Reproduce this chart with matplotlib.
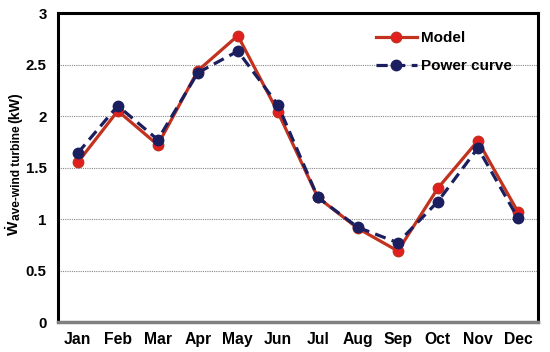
import matplotlib
matplotlib.use("Agg")
import matplotlib.pyplot as plt

months = ["Jan", "Feb", "Mar", "Apr", "May", "Jun", "Jul", "Aug", "Sep", "Oct", "Nov", "Dec"]
model = [1.55, 2.05, 1.72, 2.44, 2.78, 2.04, 1.21, 0.91, 0.69, 1.30, 1.76, 1.07]
power_curve = [1.64, 2.10, 1.77, 2.42, 2.63, 2.11, 1.21, 0.92, 0.77, 1.17, 1.69, 1.01]
yticks = [0, 0.5, 1, 1.5, 2, 2.5, 3]
ytick_labels = ["0", "0.5", "1", "1.5", "2", "2.5", "3"]

plt.rcParams['font.family'] = ['Liberation Sans', 'DejaVu Sans']
plt.rcParams['mathtext.fontset'] = 'custom'
plt.rcParams['mathtext.rm'] = 'Liberation Sans:bold'
plt.rcParams['mathtext.bf'] = 'Liberation Sans:bold'
plt.rcParams['mathtext.it'] = 'Liberation Sans:bold'

W, H = 550, 352
fig = plt.figure(figsize=(W / 100, H / 100), dpi=100)
ax = fig.add_axes([0.105, 0.085, 0.873, 0.878])

x = list(range(len(months)))
ax.plot(x, model, color="#c1321f", lw=2.3, marker="o", ms=7.5,
        markerfacecolor="#e31e1e", markeredgecolor="#c1321f", label="Model", zorder=3)
ax.plot(x, power_curve, color="#1b1f5f", lw=2.3, ls=(0, (3.5, 2)), marker="o", ms=7.5,
        markerfacecolor="#1b1f5f", markeredgecolor="#1b1f5f", label="Power curve", zorder=4)

ax.set_xlim(-0.5, len(months) - 0.5)
ax.set_ylim(0, 3)
ax.set_xticks(x)
ax.set_xticklabels(months, fontsize=11.3, fontweight="bold")
ax.set_yticks(yticks)
ax.set_yticklabels(ytick_labels, fontsize=10.8, fontweight="bold")
ax.tick_params(axis="y", length=0, pad=8)
ax.tick_params(axis="x", length=0, pad=7)
ax.yaxis.grid(True, ls=(0, (1, 1)), color="#888888", lw=0.8)
ax.set_axisbelow(True)

for s in ["top", "left", "right"]:
    ax.spines[s].set_color("black")
    ax.spines[s].set_linewidth(2.2)
ax.spines["bottom"].set_color("#808080")
ax.spines["bottom"].set_linewidth(2.5)

leg = ax.legend(loc="upper left", bbox_to_anchor=(0.662, 0.942), frameon=False,
                prop={"weight": "bold", "size": 11}, handlelength=2.7,
                handletextpad=0.3, labelspacing=0.95, borderaxespad=0, borderpad=0)

# composite y-axis label, drawn piece by piece (rotated 90 degrees)
renderer = fig.canvas.get_renderer()

def text_len(s, size):
    t = fig.text(0, 0, s, fontsize=size, fontweight="bold")
    w = t.get_window_extent(renderer).width
    t.remove()
    return w

pieces = [
    (r"$\dot{W}$", 11, 19.0, 0),
    ("ave-wind turbine", 8.6, 20.0, 0),
    ("(kW)", 10.2, 19.0, 2),
]
ypos = H - 236
for s, size, xb, gap in pieces:
    ypos += gap
    fig.text(xb / W, ypos / H, s, fontsize=size, fontweight="bold", rotation=90,
             rotation_mode="anchor", ha="left", va="baseline")
    ypos += text_len(s, size)

fig.savefig("out.png", dpi=100)
